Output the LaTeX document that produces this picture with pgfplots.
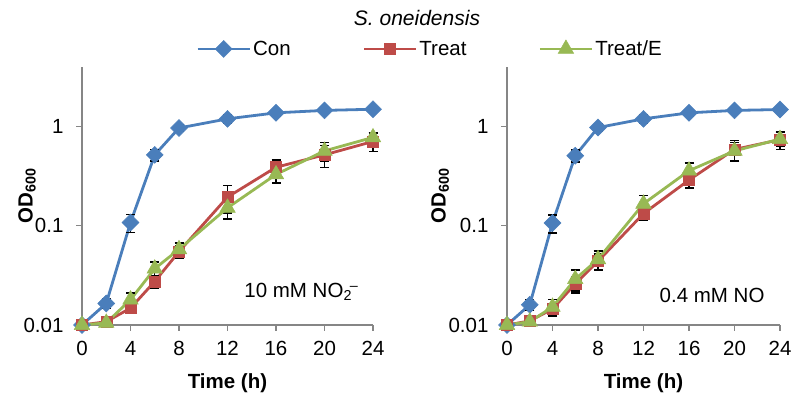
\documentclass[border=0pt]{standalone}
\usepackage{fontspec}
\setmainfont{Liberation Sans}
\usepackage{pgfplots}
\usepackage{pgfplotstable}
\pgfplotsset{compat=1.18}
\definecolor{cblue}{HTML}{4A7EBB}
\definecolor{cred}{HTML}{BE4B48}
\definecolor{cgreen}{HTML}{98B954}
\definecolor{axgray}{HTML}{868686}
\newcommand{\bigf}{\fontsize{20.5bp}{23bp}\selectfont}

\pgfplotstableread{
t con conE tr trE te teE
0 0.010 0.0005 0.0100 0.0005 0.0100 0.0005
2 0.0165 0.0018 0.0108 0.0008 0.0105 0.0008
4 0.108 0.022 0.0148 0.0018 0.0180 0.0030
6 0.52 0.07 0.0275 0.0040 0.037 0.006
8 0.97 0.08 0.055 0.008 0.058 0.009
12 1.20 0.12 0.195 0.06 0.152 0.035
16 1.38 0.12 0.39 0.07 0.33 0.06
20 1.46 0.10 0.52 0.13 0.57 0.12
24 1.50 0.08 0.71 0.15 0.78 0.10
}\leftdata

\pgfplotstableread{
t con conE tr trE te teE
0 0.010 0.0005 0.010 0.0005 0.010 0.0005
2 0.016 0.002 0.0110 0.0010 0.0108 0.0008
4 0.107 0.022 0.0145 0.0020 0.0152 0.0030
6 0.51 0.07 0.026 0.005 0.029 0.007
8 0.98 0.08 0.044 0.008 0.046 0.010
12 1.20 0.12 0.133 0.020 0.167 0.035
16 1.38 0.12 0.29 0.05 0.36 0.07
20 1.46 0.10 0.59 0.14 0.57 0.12
24 1.49 0.08 0.74 0.15 0.75 0.12
}\rightdata

\tikzset{
  conplot/.style={cblue, line width=2.8bp, mark=square*, mark size=6bp, mark options={rotate=45, fill=cblue, draw=cblue, line width=0.5bp}},
  trplot/.style={cred, line width=2.8bp, mark=square*, mark size=5.5bp, mark options={fill=cred, draw=cred, line width=0.5bp}},
  teplot/.style={cgreen, line width=2.8bp, mark=triangle*, mark size=9bp, mark options={fill=cgreen, draw=cgreen, line width=0.5bp}},
}
\pgfplotsset{
  every axis plot/.append style={
    error bars/y dir=both, error bars/y explicit,
    error bars/error bar style={black, line width=1.4bp, solid},
    error bars/error mark options={black, rotate=90, mark size=4.5bp, line width=1.4bp}},
}

\begin{document}
\begin{tikzpicture}
\useasboundingbox (0,0) rectangle (795bp,396bp);

\begin{axis}[scale only axis, height=258bp, width=291bp, at={(82bp,71bp)}, anchor=south west,
    ymode=log, xmin=0, xmax=24, ymin=0.01, ymax=4,
    axis x line=bottom, axis y line=left,
    axis line style={draw=axgray, line width=1.3bp, -},
    xtick={0,4,8,12,16,20,24},
    ytick={0.01,0.1,1}, yticklabels={0.01,0.1,1},
    yminorticks=false, xminorticks=false,
    tick align=outside, major tick length=6bp,
    tick style={draw=axgray, line width=1.2bp},
    xticklabel style={font=\bigf, yshift=-7bp},
    yticklabel style={font=\bigf, xshift=-9bp},
    /pgf/number format/assume math mode=true,
    xlabel={\textbf{Time (h)}}, ylabel={\textbf{OD\textsubscript{600}}},
    label style={font=\bigf},
    xlabel style={at={(axis description cs:0.5,-0.225)}, anchor=center},
    ylabel style={at={(axis description cs:-0.189,0.5)}, anchor=center},
    clip=false,
  legend columns=3,
  legend style={at={(rel axis cs:1.196,1.07)}, anchor=center, draw=none, fill=none, font=\bigf,
    /tikz/every even column/.append style={column sep=70bp}},
  legend image code/.code={\draw[mark repeat=2,mark phase=2,#1] plot coordinates {(0bp,0bp) (26bp,0bp) (52bp,0bp)};},
]
\addplot[conplot] table[x=t, y=con, y error=conE] {\leftdata};
\addlegendentry{Con}
\addplot[trplot] table[x=t, y=tr, y error=trE] {\leftdata};
\addlegendentry{Treat}
\addplot[teplot] table[x=t, y=te, y error=teE] {\leftdata};
\addlegendentry{Treat/E}
\node[anchor=east, font=\bigf] at (rel axis cs:0.962,0.128) {10 mM NO\textsubscript{2}\kern-0.1em\textsuperscript{–}};
\end{axis}

\begin{axis}[scale only axis, height=258bp, width=273bp, at={(507bp,71bp)}, anchor=south west,
    ymode=log, xmin=0, xmax=24, ymin=0.01, ymax=4,
    axis x line=bottom, axis y line=left,
    axis line style={draw=axgray, line width=1.3bp, -},
    xtick={0,4,8,12,16,20,24},
    ytick={0.01,0.1,1}, yticklabels={0.01,0.1,1},
    yminorticks=false, xminorticks=false,
    tick align=outside, major tick length=6bp,
    tick style={draw=axgray, line width=1.2bp},
    xticklabel style={font=\bigf, yshift=-7bp},
    yticklabel style={font=\bigf, xshift=-9bp},
    /pgf/number format/assume math mode=true,
    xlabel={\textbf{Time (h)}}, ylabel={\textbf{OD\textsubscript{600}}},
    label style={font=\bigf},
    xlabel style={at={(axis description cs:0.5,-0.225)}, anchor=center},
    ylabel style={at={(axis description cs:-0.245,0.5)}, anchor=center},
    clip=false,
]
\addplot[conplot] table[x=t, y=con, y error=conE] {\rightdata};
\addplot[trplot] table[x=t, y=tr, y error=trE] {\rightdata};
\addplot[teplot] table[x=t, y=te, y error=teE] {\rightdata};
\node[anchor=east, font=\bigf] at (rel axis cs:0.956,0.116) {0.4 mM NO};
\end{axis}

\node[font=\itshape\fontsize{21bp}{24bp}\selectfont] at (417bp,378bp) {S. oneidensis};
\end{tikzpicture}
\end{document}
